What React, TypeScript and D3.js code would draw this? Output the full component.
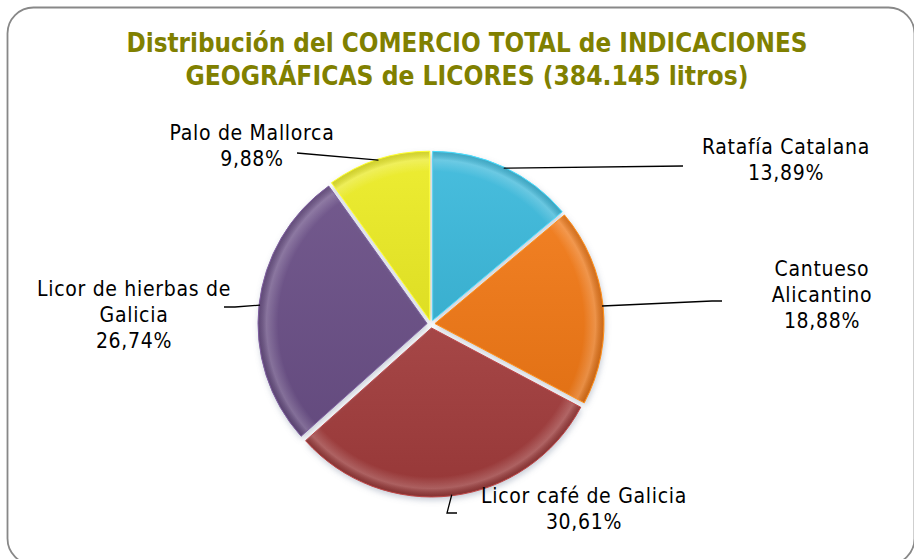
import React, { useRef, useEffect } from "react";
import * as d3 from "d3";

// chart data
const categories = [
  "Ratafía Catalana",
  "Cantueso Alicantino",
  "Licor café de Galicia",
  "Licor de hierbas de Galicia",
  "Palo de Mallorca",
];
const shares = [13.89, 18.88, 30.61, 26.74, 9.88];
const sliceColors = ["#3cbadc", "#f07812", "#a03b3b", "#6a4f86", "#ecec26"];
const titleLines = [
  "Distribución del COMERCIO TOTAL de INDICACIONES",
  "GEOGRÁFICAS de LICORES (384.145 litros)",
];

// label layout (text lines, anchor, leader elbow/end)
const labelLayout = [
  { lines: ["Ratafía Catalana"], x: 786, y: 154, elbow: null, end: [683, 166] },
  { lines: ["Cantueso", "Alicantino"], x: 822, y: 276, elbow: [712, 301], end: [722, 301] },
  { lines: ["Licor café de Galicia"], x: 584, y: 503, elbow: [447, 513], end: [457, 513] },
  { lines: ["Licor de hierbas de", "Galicia"], x: 134, y: 296, elbow: [235, 307], end: [224, 307] },
  { lines: ["Palo de Mallorca"], x: 252, y: 140, elbow: null, end: [297, 153] },
];

const W = 914;
const H = 559;

function App() {
  const svgRef = useRef<SVGSVGElement>(null);

  useEffect(() => {
    const svg = d3.select(svgRef.current);
    svg.selectAll("*").remove();

    const esLocale = d3.formatLocale({
      decimal: ",",
      thousands: ".",
      grouping: [3],
      currency: ["", "€"],
    });
    const fmt = esLocale.format(".2f");

    const defs = svg.append("defs");
    const f = defs
      .append("filter")
      .attr("id", "shadow")
      .attr("x", "-20%")
      .attr("y", "-20%")
      .attr("width", "140%")
      .attr("height", "140%");
    f.append("feDropShadow")
      .attr("dx", 1)
      .attr("dy", 3)
      .attr("stdDeviation", 3)
      .attr("flood-color", "#7a8aa0")
      .attr("flood-opacity", 0.45);

    // frame
    svg
      .append("rect")
      .attr("x", 7.5)
      .attr("y", 7.5)
      .attr("width", 907)
      .attr("height", 557)
      .attr("rx", 26)
      .attr("fill", "#fff")
      .attr("stroke", "#888")
      .attr("stroke-width", 1.8);

    // title
    const title = svg
      .append("g")
      .attr("font-family", "'DejaVu Sans Condensed', 'DejaVu Sans', sans-serif")
      .attr("font-weight", "bold")
      .attr("font-size", 26)
      .attr("fill", "#808000")
      .attr("text-anchor", "middle");
    title
      .selectAll("text")
      .data(titleLines)
      .join("text")
      .attr("x", 467)
      .attr("y", (d, i) => 52 + i * 33)
      .attr("textLength", (d, i) => (i === 0 ? 681 : 563))
      .attr("lengthAdjust", "spacingAndGlyphs")
      .text((d) => d);

    const cx = 431;
    const cy = 324;
    const R = 169;
    const explode = 4;

    const pie = d3
      .pie<number>()
      .value((d) => d)
      .sort(null);
    const arcs = pie(shares);
    const arc = d3.arc<d3.PieArcDatum<number>>().innerRadius(0).outerRadius(R);

    // rim highlight gradient
    const rg = defs
      .append("radialGradient")
      .attr("id", "rim")
      .attr("gradientUnits", "userSpaceOnUse")
      .attr("cx", 0)
      .attr("cy", 0)
      .attr("r", R);
    rg.append("stop").attr("offset", 0).attr("stop-color", "#fff").attr("stop-opacity", 0);
    rg.append("stop").attr("offset", 0.88).attr("stop-color", "#fff").attr("stop-opacity", 0);
    rg.append("stop").attr("offset", 0.95).attr("stop-color", "#fff").attr("stop-opacity", 0.2);
    rg.append("stop").attr("offset", 1).attr("stop-color", "#000").attr("stop-opacity", 0.12);

    const lg = defs
      .append("linearGradient")
      .attr("id", "shade")
      .attr("x1", 0)
      .attr("y1", 0)
      .attr("x2", 0)
      .attr("y2", 1);
    lg.append("stop").attr("offset", 0).attr("stop-color", "#fff").attr("stop-opacity", 0.06);
    lg.append("stop").attr("offset", 1).attr("stop-color", "#000").attr("stop-opacity", 0.06);

    const pieG = svg.append("g").attr("transform", `translate(${cx},${cy})`);
    const slices = pieG
      .selectAll("g.slice")
      .data(arcs)
      .join("g")
      .attr("class", "slice")
      .attr("transform", (d) => {
        const m = (d.startAngle + d.endAngle) / 2;
        return `translate(${Math.sin(m) * explode},${-Math.cos(m) * explode})`;
      });
    slices
      .append("path")
      .attr("d", arc)
      .attr("fill", (d, i) => sliceColors[i])
      .attr("filter", "url(#shadow)");
    slices
      .append("path")
      .attr("d", arc)
      .attr("fill", "url(#shade)");
    slices
      .append("path")
      .attr("d", arc)
      .attr("fill", "url(#rim)")
      .attr("stroke", (d, i) => d3.color(sliceColors[i])!.brighter(0.5).formatHex())
      .attr("stroke-width", 1);

    // leader lines
    const leaders = svg.append("g").attr("fill", "none").attr("stroke", "#000").attr("stroke-width", 1.3);
    arcs.forEach((d, i) => {
      const m = (d.startAngle + d.endAngle) / 2;
      const r0 = R + explode - 1;
      const start: [number, number] = [cx + Math.sin(m) * r0, cy - Math.cos(m) * r0];
      const L = labelLayout[i];
      const pts: [number, number][] = [start];
      if (L.elbow) pts.push(L.elbow as [number, number]);
      pts.push(L.end as [number, number]);
      leaders.append("path").attr("d", d3.line()(pts));
    });

    // labels
    const labels = svg
      .append("g")
      .attr("font-family", "'DejaVu Sans Condensed', 'DejaVu Sans', sans-serif")
      .attr("font-size", 21)
      .attr("letter-spacing", 0.7)
      .attr("fill", "#000")
      .attr("text-anchor", "middle");
    arcs.forEach((d, i) => {
      const L = labelLayout[i];
      const lines = [...L.lines, `${fmt(shares[i])}%`];
      labels
        .append("text")
        .selectAll("tspan")
        .data(lines)
        .join("tspan")
        .attr("x", L.x)
        .attr("y", (t, j) => L.y + j * 26)
        .text((t) => t);
    });
  }, []);

  return (
    <div style={{ position: "absolute", left: 0, top: 0 }}>
      <svg ref={svgRef} width={W} height={H} style={{ display: "block" }}></svg>
    </div>
  );
}

export default App;
